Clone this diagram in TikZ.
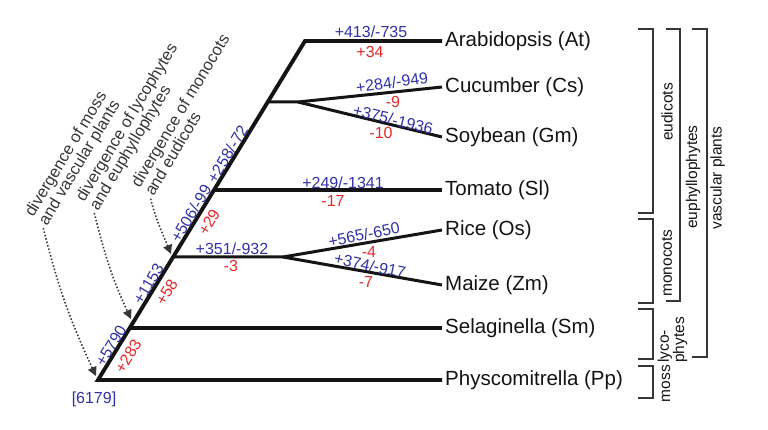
\documentclass[tikz,border=0pt]{standalone}
\usepackage{fontspec}
\setmainfont{Liberation Sans}
\usetikzlibrary{arrows.meta,calc}
\definecolor{nblue}{RGB}{50,50,168}
\definecolor{nred}{RGB}{228,42,42}
\definecolor{ink}{RGB}{20,20,20}
\definecolor{gink}{RGB}{55,55,55}
\begin{document}
\begin{tikzpicture}[x=1pt,y=-1pt,
  thickline/.style={line width=3.9pt, draw=ink, line join=miter},
  thinbranch/.style={line width=3pt, draw=ink, line join=round},
  species/.style={anchor=west, inner sep=3pt, font=\fontsize{20.5}{24}\selectfont, text=ink},
  bnum/.style={inner sep=0pt, text=nblue, font=\fontsize{16}{18}\selectfont},
  rnum/.style={inner sep=0pt, text=nred, font=\fontsize{16}{18}\selectfont},
  clade/.style={line width=1.8pt, draw=gink},
  cladelabel/.style={rotate=90, inner sep=0pt, font=\fontsize{15.5}{13.5}\selectfont, text=ink},
  divlabel/.style={rotate=59, inner sep=0pt, align=left, anchor=west, font=\fontsize{16.5}{16}\selectfont, text=gink},
  divarrow/.style={line width=1.6pt, draw=gink, dash pattern=on 1.5pt off 2pt, -{Triangle[length=9pt,width=9pt]}},
]
\useasboundingbox[fill=white] (0,0) rectangle (768,430);

% species
\node[species] (At) at (442,41) {Arabidopsis (At)};
\node[species] (Cs) at (442,87) {Cucumber (Cs)};
\node[species] (Gm) at (442,137) {Soybean (Gm)};
\node[species] (Sl) at (442,190) {Tomato (Sl)};
\node[species] (Os) at (442,230) {Rice (Os)};
\node[species] (Zm) at (442,285) {Maize (Zm)};
\node[species] (Sm) at (442,328) {Selaginella (Sm)};
\node[species] (Pp) at (442,380) {Physcomitrella (Pp)};

% tree points
\coordinate (root) at (98,380);
\coordinate (top) at (305,41);
\coordinate (nSm) at (129.75,328);
\coordinate (nMo) at (173.1,257);
\coordinate (nSl) at (214,190);
\coordinate (nEu) at (267.75,102);
\coordinate (sEu) at (298,102);
\coordinate (sMo) at (283,257);

% tree
\draw[thickline] (Pp.west) -- (root) -- (top) -- (At.west);
\draw[thickline] (nSm) -- (Sm.west);
\draw[thickline] (nSl) -- (Sl.west);
\draw[thinbranch] (nEu) -- (sEu) -- (Cs.west);
\draw[thinbranch] (sEu) -- (Gm.west);
\draw[thinbranch] (nMo) -- (sMo) -- (Os.west);
\draw[thinbranch] (sMo) -- (Zm.west);

% branch numbers
\node[bnum] (l1) at (371,32) {+413/-735};
\node[rnum] (l2) at (370,51.5) {+34};
\node[bnum, rotate=8] (l3) at (392,82.5) {+284/-949};
\node[rnum] (l4) at (393,102) {-9};
\node[bnum, rotate=-13.5] (l5) at (393,119.5) {+375/-1936};
\node[rnum] (l6) at (381,133) {-10};
\node[bnum] (l7) at (343,182.5) {+249/-1341};
\node[rnum] (l8) at (333,201) {-17};
\node[bnum] (l9) at (232,249) {+351/-932};
\node[rnum] (l10) at (231,266) {-3};
\node[bnum, rotate=11] (l11) at (364,234.5) {+565/-650};
\node[rnum] (l12) at (369,252) {-4};
\node[bnum, rotate=-12] (l13) at (370,265.5) {+374/-917};
\node[rnum] (l14) at (366,282) {-7};

\node[bnum, rotate=59] (t1) at (111,345.8) {+5790};
\node[rnum, rotate=59] (t2) at (128.2,356.2) {+283};
\node[bnum, rotate=59] (t3) at (148.5,283.8) {+1153};
\node[rnum, rotate=59] (t4) at (166.7,292.5) {+58};
\node[bnum, rotate=59] (t5) at (190.9,213.6) {+506/-99};
\node[rnum, rotate=59] (t6) at (209.1,222.3) {+29};
\node[bnum, rotate=59] (t7) at (227.4,153.9) {+258/-72};
\node[bnum] (rootlab) at (94,399) {[6179]};

% divergence annotations
\node[divlabel] (d1) at (36.5,220) {divergence of moss\\and vascular plants};
\node[divlabel] (d2) at (87.5,205) {divergence of lycophytes\\and euphyllophytes};
\node[divlabel] (d3) at (141.5,190) {divergence of monocots\\and eudicots};
\coordinate (a1) at (96,376);
\coordinate (a2) at (131,319);
\coordinate (a3) at (171,254);
\draw[divarrow] ($(d1.west)!0.5!(d1.south west)+(0,4)$) to[out=-76,in=115] (a1);
\draw[divarrow] ($(d2.west)!0.5!(d2.south west)+(0,4)$) to[out=-76,in=115] (a2);
\draw[divarrow] ($(d3.west)!0.5!(d3.south west)+(3,5)$) to[out=-76,in=112] (a3);

% clade brackets
\draw[clade] (638,29) -- (653,29) -- (653,213) -- (638,213);
\draw[clade] (638,219) -- (653,219) -- (653,303) -- (638,303);
\draw[clade] (638,309) -- (653,309) -- (653,359) -- (638,359);
\draw[clade] (638,366) -- (653,366) -- (653,398) -- (638,398);
\draw[clade] (666,29) -- (680,29) -- (680,301) -- (666,301);
\draw[clade] (692,29) -- (707,29) -- (707,357) -- (692,357);

\node[cladelabel] (c1) at (667,112) {eudicots};
\node[cladelabel] (c2) at (667,263) {monocots};
\node[cladelabel, align=left, anchor=west] (c3) at (672.5,363) {lyco-\\phytes};
\node[cladelabel] (c4) at (666,383.5) {moss};
\node[cladelabel] (c5) at (693,177) {euphyllophytes};
\node[cladelabel] (c6) at (717.5,178) {vascular plants};
\end{tikzpicture}
\end{document}
